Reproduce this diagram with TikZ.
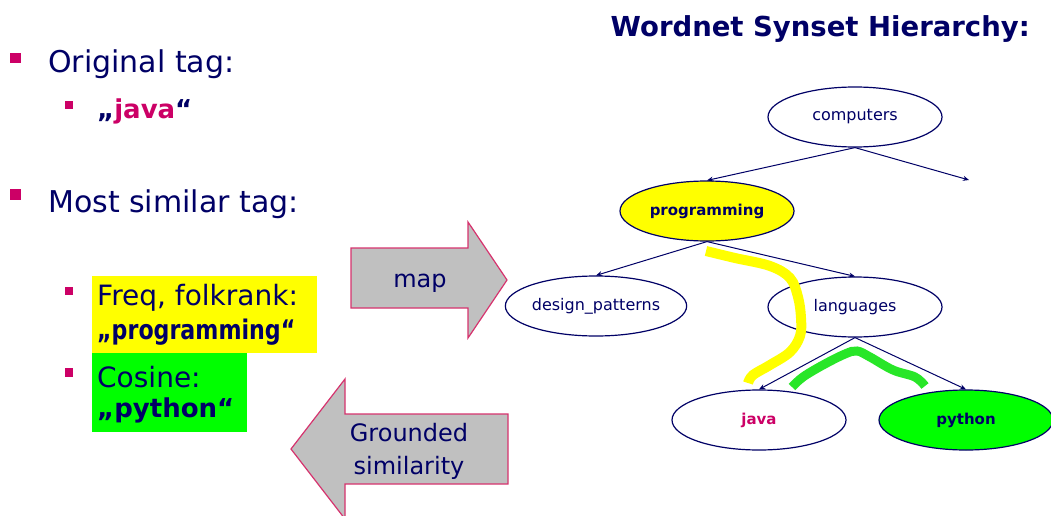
\documentclass[tikz,border=0pt]{standalone}
\usepackage{fontspec}
\setmainfont{DejaVu Sans}
\newfontfamily\condfont{DejaVu Sans}[FakeStretch=0.82]
\usetikzlibrary{shapes.geometric,arrows.meta}
\definecolor{navy}{RGB}{0,0,102}
\definecolor{mag}{RGB}{204,0,102}
\definecolor{arrowedge}{RGB}{214,51,110}
\definecolor{arrowfill}{RGB}{192,192,192}
\definecolor{hlyellow}{RGB}{255,255,0}
\definecolor{hlgreen}{RGB}{0,255,0}
\definecolor{strokegreen}{RGB}{40,230,40}
\begin{document}
\begin{tikzpicture}[x=1pt,y=-1pt,
  syn/.style={ellipse, draw=navy, line width=1.2pt, minimum width=174pt, minimum height=60pt, inner sep=0pt, text=navy, font=\fontsize{16}{19}\selectfont},
  synb/.style={syn, font=\fontsize{15}{19}\selectfont\bfseries},
  hyp/.style={draw=navy, line width=1pt, -{Stealth[length=6pt,width=5pt]}},
  bulletsq/.style={fill=mag},
  txt/.style={inner sep=0pt, anchor=base west, text=navy},
  big/.style={txt, font=\fontsize{30}{36}\selectfont},
  mid/.style={txt, font=\fontsize{28}{32}\selectfont},
  midb/.style={txt, font=\fontsize{26}{32}\selectfont\bfseries},
  midc/.style={txt, font=\fontsize{27}{32}\selectfont\condfont\bfseries},
  bigarrow/.style={fill=arrowfill, draw=arrowedge, line width=1.2pt},
  arrtxt/.style={inner sep=0pt, text=navy, font=\fontsize{24}{32}\selectfont, align=center}
]
\useasboundingbox (0,0) rectangle (1051,516);
\fill[white] (0,0) rectangle (1051,516);

% title
\node[inner sep=0pt, anchor=base east, text=navy, font=\fontsize{27.5}{32}\selectfont\bfseries] (title) at (1030,37) {Wordnet Synset Hierarchy:};

% left bullets
\fill[bulletsq] (10,53) rectangle (21,63);
\node[big] (orig) at (48,73) {Original tag:};
\fill[bulletsq] (65,101) rectangle (73,109);
\node[midb] (javatag) at (97,118) {„\textcolor{mag}{java}“};
\fill[bulletsq] (10,189) rectangle (21,200);
\node[big] (most) at (48,212) {Most similar tag:};

\fill[hlyellow] (92,276) rectangle (317,353);
\fill[hlgreen] (92,353) rectangle (247,432);
\fill[bulletsq] (65,287) rectangle (73,295);
\fill[bulletsq] (65,368) rectangle (73,377);
\node[mid] (freq) at (97,305) {Freq, folkrank:};
\node[midc] (progtag) at (97,339) {„programming“};
\node[mid] (cos) at (97,387) {Cosine:};
\node[midb] (pytag) at (97,417) {„python“};

% big arrows
\draw[bigarrow] (351,248) -- (468,248) -- (468,222) -- (507,280) -- (468,338) -- (468,308) -- (351,308) -- cycle;
\node[arrtxt] (maptxt) at (420,283) {map};
\draw[bigarrow] (508,414) -- (345,414) -- (345,379) -- (291,449) -- (345,519) -- (345,484) -- (508,484) -- cycle;
\node[arrtxt] (gs) at (409,451) {Grounded\\[1pt]similarity};

% tree
\node[syn] (computers) at (855,117) {computers};
\node[synb, fill=hlyellow] (programming) at (707,211) {programming};
\node[syn] (design) at (596,306) {design\_patterns};
\node[syn] (languages) at (855,307) {languages};
\node[synb, text=mag] (java) at (759,420) {java};
\node[synb, fill=hlgreen] (python) at (966,420) {python};
\coordinate (free) at (969,180);

\draw[hyp] (computers.south) -- (programming.north);
\draw[hyp] (computers.south) -- (free);
\draw[hyp] (programming.south) -- (design.north);
\draw[hyp] (programming.south) -- (languages.north);
\draw[hyp] (languages.south) -- (java.north);
\draw[hyp] (languages.south) -- (python.north);

% highlight strokes
\draw[hlyellow, line width=10pt] plot[smooth, tension=0.6] coordinates {(706,251) (735,258) (770,266) (790,278) (798,297) (801,318) (800,336) (790,352) (770,365) (753,375) (748,383)};
\draw[strokegreen, line width=9pt] plot[smooth, tension=0.6] coordinates {(792,387) (803,377) (823,365) (845,354) (857,351) (870,357) (893,370) (915,377) (925,386)};
\end{tikzpicture}
\end{document}
